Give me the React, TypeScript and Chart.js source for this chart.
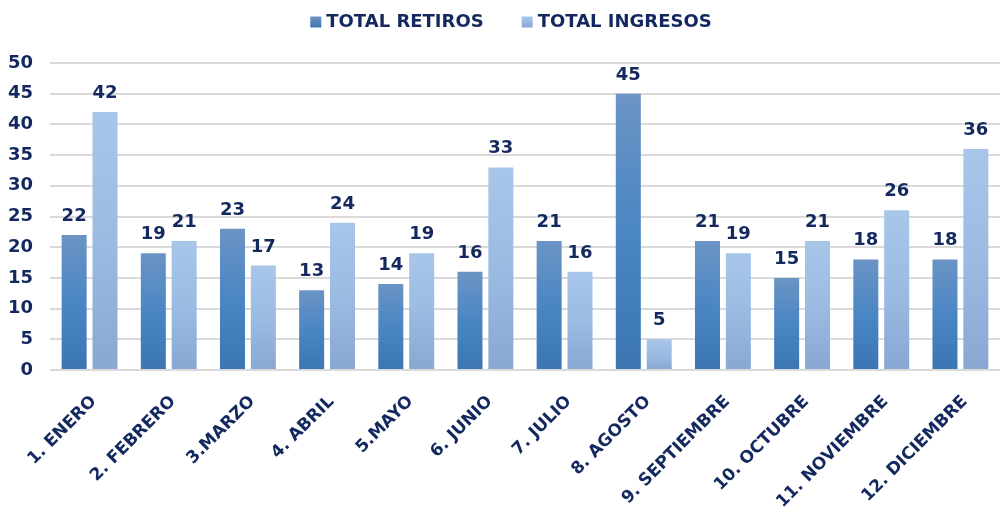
import React, { useEffect, useRef } from "react";
import { Chart, registerables } from "chart.js";

Chart.register(...registerables);

const categories = [
  "1. ENERO",
  "2. FEBRERO",
  "3.MARZO",
  "4. ABRIL",
  "5.MAYO",
  "6. JUNIO",
  "7. JULIO",
  "8. AGOSTO",
  "9. SEPTIEMBRE",
  "10. OCTUBRE",
  "11. NOVIEMBRE",
  "12. DICIEMBRE",
];
const totalRetiros = [22, 19, 23, 13, 14, 16, 21, 45, 21, 15, 18, 18];
const totalIngresos = [42, 21, 17, 24, 19, 33, 16, 5, 19, 21, 26, 36];
const yTicks = [0, 5, 10, 15, 20, 25, 30, 35, 40, 45, 50];
const seriesNames = ["TOTAL RETIROS", "TOTAL INGRESOS"];

const NAVY = "#13285e";
const FONT = "'DejaVu Sans', sans-serif";
const DARK = { top: "#6b94c4", mid: "#4a86c4", bottom: "#3b76b3", flat: "#4a86c4" };
const LIGHT = { top: "#a8c6e9", mid: "#9bbbe2", bottom: "#88a8d3", flat: "#9dbde3" };

function barGradient(ctx: any, c: any) {
  const chart = ctx.chart;
  const area = chart.chartArea;
  if (!area || ctx.type !== "data") return c.flat;
  const y = chart.scales.y;
  const v = ctx.parsed ? ctx.parsed.y : ctx.raw;
  const yTop = y.getPixelForValue(v);
  const yBot = y.getPixelForValue(0);
  if (!isFinite(yTop) || !isFinite(yBot) || yTop === yBot) return c.flat;
  const g = chart.ctx.createLinearGradient(0, yTop, 0, yBot);
  g.addColorStop(0, c.top);
  g.addColorStop(0.5, c.mid);
  g.addColorStop(1, c.bottom);
  return g;
}

const valueLabels = {
  id: "valueLabels",
  afterDatasetsDraw(chart: any) {
    const ctx = chart.ctx;
    ctx.save();
    ctx.font = `bold 18px ${FONT}`;
    ctx.fillStyle = NAVY;
    ctx.textAlign = "center";
    ctx.textBaseline = "alphabetic";
    chart.data.datasets.forEach((ds: any, i: number) => {
      const meta = chart.getDatasetMeta(i);
      meta.data.forEach((bar: any, j: number) => {
        ctx.fillText(String(ds.data[j]), bar.x, bar.y - 14);
      });
    });
    ctx.restore();
  },
};

const xLabels = {
  id: "xLabels",
  afterDraw(chart: any) {
    const ctx = chart.ctx;
    const xs = chart.scales.x;
    const bottom = chart.chartArea.bottom;
    ctx.save();
    ctx.font = `bold 17px ${FONT}`;
    ctx.fillStyle = NAVY;
    ctx.textAlign = "right";
    ctx.textBaseline = "alphabetic";
    categories.forEach((label, i) => {
      const x = xs.getPixelForTick(i);
      ctx.save();
      ctx.translate(x + 7.5, bottom + 32);
      ctx.rotate(-Math.PI / 4);
      ctx.fillText(label, 0, 0);
      ctx.restore();
    });
    ctx.restore();
  },
};

const customLegend = {
  id: "customLegend",
  afterDraw(chart: any) {
    const ctx = chart.ctx;
    ctx.save();
    ctx.font = `bold 18px ${FONT}`;
    ctx.textBaseline = "middle";
    ctx.textAlign = "left";
    const box = 11;
    const gapBoxText = 5;
    const gapItems = 38;
    const widths = seriesNames.map((n) => box + gapBoxText + ctx.measureText(n).width);
    const total = widths.reduce((a, b) => a + b, 0) + gapItems * (seriesNames.length - 1);
    let x = 511 - total / 2;
    const cy = 22;
    const fills = [DARK, LIGHT];
    seriesNames.forEach((n, i) => {
      const g = ctx.createLinearGradient(0, cy - box / 2, 0, cy + box / 2);
      g.addColorStop(0, fills[i].top);
      g.addColorStop(1, fills[i].bottom);
      ctx.fillStyle = g;
      ctx.fillRect(x, cy - box / 2, box, box);
      ctx.fillStyle = NAVY;
      ctx.fillText(n, x + box + gapBoxText, cy);
      x += widths[i] + gapItems;
    });
    ctx.restore();
  },
};

export default function App() {
  const ref = useRef<HTMLCanvasElement>(null);
  useEffect(() => {
    document.body.style.margin = "0";
    const chart = new Chart(ref.current!, {
      type: "bar",
      data: {
        labels: categories,
        datasets: [
          {
            label: seriesNames[0],
            data: totalRetiros,
            backgroundColor: (c: any) => barGradient(c, DARK),
            borderWidth: 0,
            inflateAmount: 0,
            categoryPercentage: 0.78,
            barPercentage: 0.81,
          },
          {
            label: seriesNames[1],
            data: totalIngresos,
            backgroundColor: (c: any) => barGradient(c, LIGHT),
            borderWidth: 0,
            inflateAmount: 0,
            categoryPercentage: 0.78,
            barPercentage: 0.81,
          },
        ],
      },
      options: {
        responsive: false,
        animation: false,
        layout: { padding: { left: 0, right: 7, top: 63, bottom: 0 } },
        plugins: {
          legend: { display: false },
          tooltip: { enabled: false },
        },
        scales: {
          x: {
            grid: { display: false, drawTicks: false },
            border: { display: false },
            afterFit: (s: any) => {
              s.height = 144;
            },
            ticks: { display: false, autoSkip: false },
          },
          y: {
            min: 0,
            max: 50,
            afterBuildTicks: (s: any) => {
              s.ticks = yTicks.map((v) => ({ value: v }));
            },
            afterFit: (s: any) => {
              s.width = 50;
            },
            grid: { color: "#dadada", lineWidth: 2, drawTicks: false },
            border: { display: false },
            ticks: {
              color: NAVY,
              font: { family: FONT, size: 18, weight: "bold" },
              padding: 17,
            },
          },
        },
      },
      plugins: [valueLabels, xLabels, customLegend],
    });
    return () => chart.destroy();
  }, []);
  return (
    <div style={{ width: 1007, height: 514 }}>
      <canvas ref={ref} width={1007} height={514} />
    </div>
  );
}
